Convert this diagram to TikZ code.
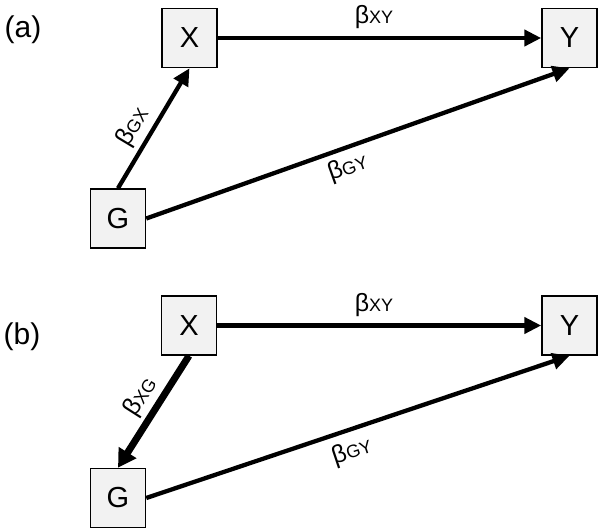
\documentclass[tikz,border=0pt]{standalone}
\usepackage{fontspec}
\setmainfont{Liberation Sans}
\usetikzlibrary{arrows.meta}
\tikzset{
  var/.style={draw=black, line width=1.5pt, fill=black!5, minimum width=55pt, minimum height=59pt, inner sep=0pt, font=\fontsize{29}{29}\selectfont},
  link/.style={line width=4.3pt, -{Triangle[length=17pt,width=16pt]}},
  thicklink/.style={line width=7pt, -{Triangle[length=18pt,width=20pt]}},
  panel/.style={font=\fontsize{30}{30}\selectfont},
  lab/.style={inner sep=0pt}
}
\newcommand{\coef}[1]{{\fontsize{25}{25}\selectfont β}{\fontsize{18}{18}\selectfont #1}}
\begin{document}
\begin{tikzpicture}[x=1pt,y=-1pt]
\useasboundingbox (0,0) rectangle (600,531);
% panel (a)
\node[panel] (pa) at (23,30) {(a)};
\node[var] (Xa) at (189.5,38) {X};
\node[var] (Ya) at (569.5,38) {Y};
\node[var] (Ga) at (118,218.5) {G};
\draw[link] (Xa.east) -- (Ya.west);
\draw[link] (Ga.north) -- (Xa.south);
\draw[link] (Ga.east) -- (Ya.south);
\node[lab] (lxya) at (374,17) {\coef{XY}};
\node[lab, rotate=59] (lgxa) at (133,127) {\coef{GX}};
\node[lab, rotate=19.7] (lgya) at (348,168) {\coef{GY}};
% panel (b)
\node[panel] (pb) at (22,337) {(b)};
\node[var] (Xb) at (189,325.5) {X};
\node[var] (Yb) at (569.5,325.5) {Y};
\node[var] (Gb) at (118,498) {G};
\draw[link] (Xb.east) -- (Yb.west);
\draw[thicklink] (Xb.south) -- (Gb.north);
\draw[link] (Gb.east) -- (Yb.south);
\node[lab] (lxyb) at (374,305) {\coef{XY}};
\node[lab, rotate=57.5] (lxgb) at (141,397) {\coef{XG}};
\node[lab, rotate=18.6] (lgyb) at (352,452) {\coef{GY}};
\end{tikzpicture}
\end{document}
